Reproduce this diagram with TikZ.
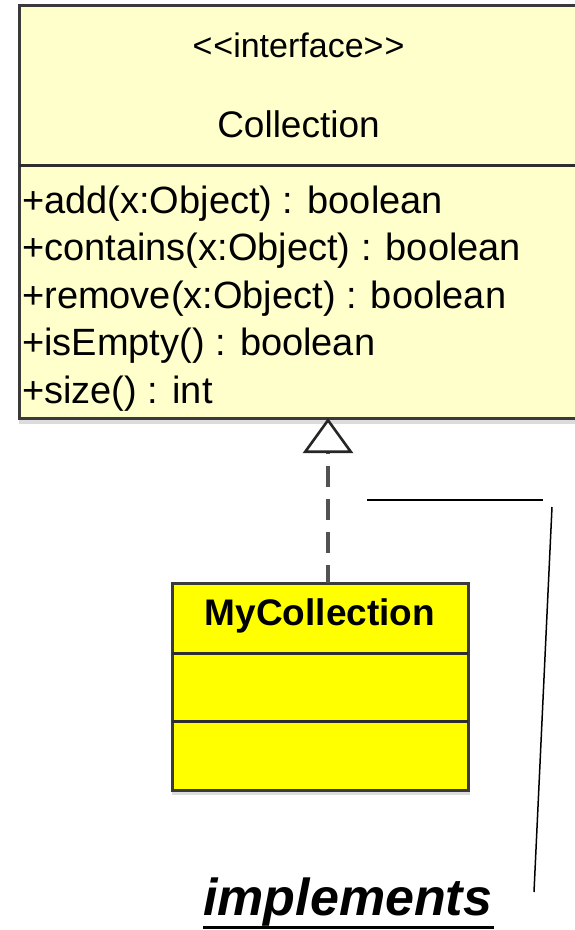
\documentclass[tikz,border=0pt]{standalone}
\usepackage{fontspec}
\setmainfont{Liberation Sans}
\usetikzlibrary{positioning,calc}
\usetikzlibrary{arrows.meta}

\definecolor{ifacefill}{HTML}{FFFFCC}
\definecolor{classfill}{HTML}{FFFF00}
\definecolor{umlborder}{HTML}{3A3A3A}
\definecolor{umlshadow}{HTML}{DCDCDC}

\begin{document}
\begin{tikzpicture}[x=1pt,y=-1pt,
      umlbox/.style={draw=umlborder, line width=3pt, inner sep=0pt,
         outer sep=0pt, anchor=north west},
      divider/.style={draw=umlborder!80!black, line width=3pt},
      member/.style={anchor=base west, inner sep=0pt,
         font=\fontsize{38}{42}\selectfont},
      title/.style={anchor=base, inner sep=0pt},
      realize/.style={draw=black!68, line width=3.2pt,
         dash pattern=on 21pt off 12pt, dash phase=3pt,
         -{Triangle[open, length=35pt, width=50pt, line width=2.6pt,
            color=black!85, fill=white]}},
   ]
   \useasboundingbox (0,0) rectangle (574,930);

   % interface Collection
   \fill[umlshadow] (19,419) rectangle (578,424);
   \node[umlbox, fill=ifacefill, minimum width=559pt, minimum height=413pt]
      (coll) at (19,5) {};
   \draw[divider] ($(coll.north west)+(0,160)$) -- ($(coll.north east)+(0,160)$);

   \node[title, font=\fontsize{34}{38}\selectfont]
      (stereo) at ($(coll.north)+(0,52)$) {<\kern1pt<interface>\kern1pt>};
   \node[title, font=\fontsize{37}{40}\selectfont]
      (cname) at ($(coll.north)+(0,132)$) {Collection};

   % operations
   \node[member] (m0) at ($(coll.north west)+(3,208)$)  {+add(x:Object) : boolean};
   \node[member] (m1) at ($(m0.base west)+(0,47.5)$)  {+contains(x:Object) : boolean};
   \node[member] (m2) at ($(m1.base west)+(0,47.5)$)  {+remove(x:Object) : boolean};
   \node[member] (m3) at ($(m2.base west)+(0,47.5)$)  {+isEmpty() : boolean};
   \node[member] (m4) at ($(m3.base west)+(0,47.5)$)  {+size() : int};

   % implementing class
   \fill[umlshadow] (172,791) rectangle (470,795);
   \node[umlbox, fill=classfill, minimum width=296pt, minimum height=207pt]
      (mycoll) at (172,583) {};
   \draw[divider] ($(mycoll.north west)+(0,70)$)  -- ($(mycoll.north east)+(0,70)$);
   \draw[divider] ($(mycoll.north west)+(0,138)$) -- ($(mycoll.north east)+(0,138)$);
   \node[title, font=\fontsize{37}{40}\selectfont\bfseries]
      (myname) at ($(mycoll.north)+(0,42)$) {MyCollection};

   % realization arrow
   \coordinate (rfoot) at ([xshift=8pt]mycoll.north);
   \draw[realize] (rfoot) -- (rfoot |- coll.south);

   % pointer to the label
   \coordinate (h0) at (367,500);
   \coordinate (h1) at (543,500);
   \coordinate (s0) at (552,507);
   \coordinate (s1) at (534,892);
   \draw[line width=1.5pt] (h0) -- (h1);
   \draw[line width=1.5pt] (s0) -- (s1);

   \node[anchor=base west, inner sep=0pt,
      font=\fontsize{52}{56}\selectfont\bfseries\itshape]
      (impl) at (203,915) {implements};
   \draw[line width=3pt] ($(impl.south west)+(0,1.5)$) -- ($(impl.south east)+(2,1.5)$);
\end{tikzpicture}
\end{document}
